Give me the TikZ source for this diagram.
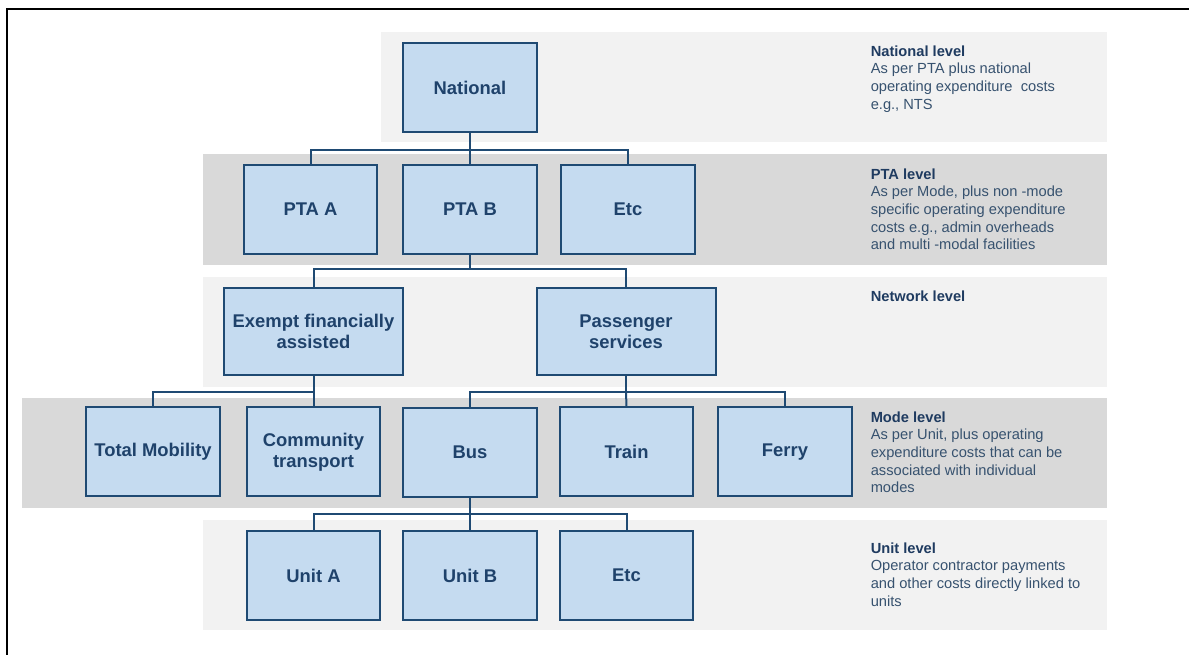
\documentclass[tikz,border=0pt]{standalone}
\usepackage{fontspec}
\setmainfont{Liberation Sans}
\definecolor{bandlight}{HTML}{F2F2F2}
\definecolor{banddark}{HTML}{D9D9D9}
\definecolor{boxfill}{HTML}{C5DBF0}
\definecolor{boxline}{HTML}{1F4A73}
\definecolor{boxtext}{HTML}{1F426B}
\definecolor{headcol}{HTML}{1F3B60}
\definecolor{bodycol}{HTML}{37526F}
\begin{document}
\begin{tikzpicture}[x=0.75pt,y=-0.75pt,
  box/.style={draw=boxline, fill=boxfill, line width=1.5pt, inner sep=0pt,
    minimum width=100pt, minimum height=66.75pt, align=center, text=boxtext,
    font=\fontsize{13.8}{15.75}\selectfont\bfseries},
  widebox/.style={box, minimum width=134.25pt, minimum height=65.25pt},
  conn/.style={draw=boxline, line width=1.5pt},
  lvl/.style={anchor=north west, inner sep=0pt, align=left, text=bodycol,
    font=\fontsize{11}{13.2}\selectfont},
  band/.style={inner sep=0pt}
]
\useasboundingbox (0,0) rectangle (1189,655);
% bands
\fill[bandlight] (381,32) rectangle (1107,142);
\fill[banddark] (203,154) rectangle (1107,265);
\fill[bandlight] (203,277) rectangle (1107,387);
\fill[banddark] (22,398) rectangle (1107,508);
\fill[bandlight] (203,520) rectangle (1107,630);
% frame
\draw[line width=1.5pt] (6.5,655) -- (6.5,9.5) -- (1189,9.5);
% boxes
\node[box] (national) at (470,88) {National};
\node[box] (ptaA) at (310.5,209.5) {PTA A};
\node[box] (ptaB) at (470,209.5) {PTA B};
\node[box] (etcA) at (628,209.5) {Etc};
\node[widebox] (exempt) at (313.5,331.5) {Exempt financially\\assisted};
\node[widebox] (pass) at (626,331.5) {Passenger\\services};
\node[box] (total) at (153,452) {Total Mobility};
\node[box] (comm) at (313.5,452) {Community\\transport};
\node[box] (bus) at (470,452.5) {Bus};
\node[box] (train) at (626.5,452) {Train};
\node[box] (ferry) at (785,452) {Ferry};
\node[box] (unitA) at (313.5,575.5) {Unit A};
\node[box] (unitB) at (470,575.5) {Unit B};
\node[box] (etcB) at (626.5,575.5) {Etc};
% junctions
\coordinate (j1) at (470,150);
\coordinate (j2) at (470,269);
\coordinate (j3) at (313.5,392);
\coordinate (j4) at (626,392);
\coordinate (j5) at (470,514);
% connectors
\draw[conn] (national.south) -- (j1);
\draw[conn] (ptaA.north) |- (j1) -| (etcA.north);
\draw[conn] (ptaB.north) -- (j1);
\draw[conn] (ptaB.south) -- (j2);
\draw[conn] (exempt.north) |- (j2) -| (pass.north);
\draw[conn] (exempt.south) -- (j3);
\draw[conn] (total.north) |- (j3) -- (comm.north);
\draw[conn] (pass.south) -- (j4);
\draw[conn] (bus.north) |- (j4) -| (ferry.north);
\draw[conn] (train.north) -- (j4);
\draw[conn] (bus.south) -- (j5);
\draw[conn] (unitA.north) |- (j5) -| (etcB.north);
\draw[conn] (unitB.north) -- (j5);
% level texts
\node[lvl] (tnat) at (870.5,45.5) {\textbf{\color{headcol}National level}\\As per PTA plus national\\operating expenditure\ \ costs\\e.g., NTS};
\node[lvl] (tpta) at (870.5,168.5) {\textbf{\color{headcol}PTA level}\\As per Mode, plus non -mode\\specific operating expenditure\\costs e.g., admin overheads\\and multi -modal facilities};
\node[lvl] (tnet) at (870.5,291) {\textbf{\color{headcol}Network level}};
\node[lvl] (tmode) at (870.5,411.5) {\textbf{\color{headcol}Mode level}\\As per Unit, plus operating\\expenditure costs that can be\\associated with individual\\modes};
\node[lvl] (tunit) at (870.5,542.5) {\textbf{\color{headcol}Unit level}\\Operator contractor payments\\and other costs directly linked to\\units};
\end{tikzpicture}
\end{document}
